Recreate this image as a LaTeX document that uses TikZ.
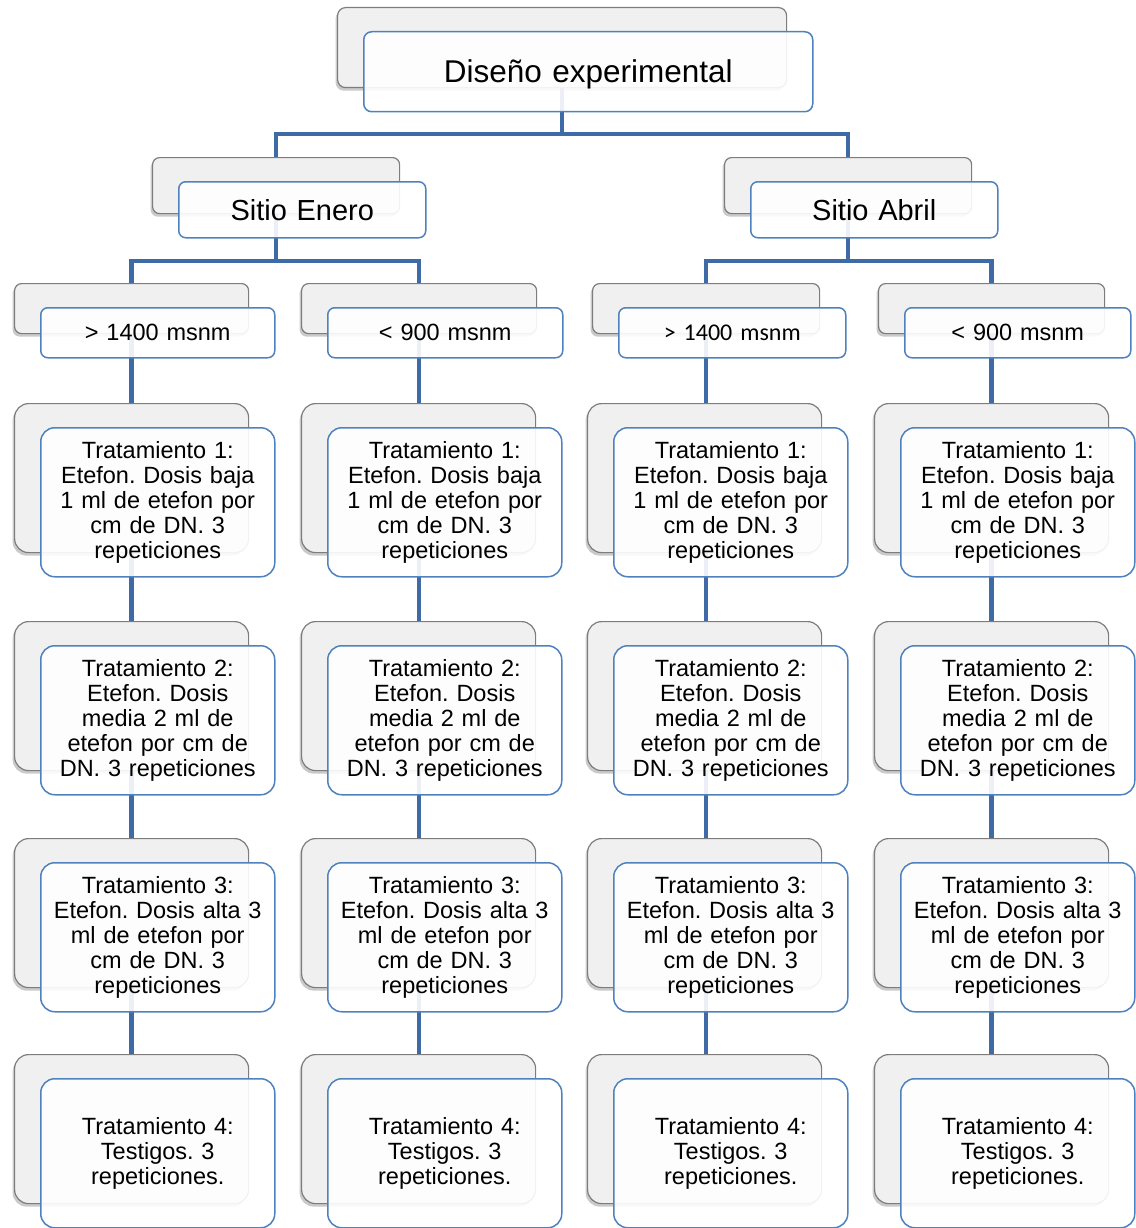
\documentclass[tikz,border=0pt]{standalone}
\usepackage{fontspec}
\setmainfont{Liberation Sans}
\newfontfamily\calib{Carlito}
\usetikzlibrary{shadows}
\frenchspacing
\definecolor{connc}{RGB}{62,106,166}
\definecolor{frontc}{RGB}{79,129,189}
\definecolor{backd}{RGB}{125,125,125}
\definecolor{backf}{RGB}{240,240,240}
\pgfdeclarelayer{bg}
\pgfsetlayers{bg,main}
\tikzset{
  backbox/.style={draw=backd, fill=backf, line width=1.2pt, inner sep=0pt, anchor=north west,
    drop shadow={shadow xshift=-2pt, shadow yshift=-3pt, opacity=0.35, fill=black!60}},
  frontbox/.style={draw=frontc, fill=white, fill opacity=0.9, text opacity=1, line width=1.5pt,
    inner sep=0pt, anchor=north west, align=center},
  conn/.style={draw=connc, line width=4.5pt},
  ftop/.style={font=\fontsize{31.5}{36}\selectfont},
  fsite/.style={font=\fontsize{29}{33}\selectfont},
  falt/.style={font=\fontsize{23.5}{26}\selectfont},
  fcal/.style={font=\calib\fontsize{24}{27}\selectfont},
  ftreat/.style={font=\fontsize{23.5}{25}\selectfont},
}
% #1 name, #2 x, #3 y, #4 width, #5 height, #6 radius, #7 style, #8 text
\newcommand\pairbox[8]{%
  \node[backbox, rounded corners=#6pt, minimum width=#4pt, minimum height=#5pt] (#1b) at (#2,#3) {};
  \node[frontbox, rounded corners=#6pt, minimum width=#4pt, minimum height=#5pt, text width=#4pt, #7]
    (#1f) at ([xshift=26pt,yshift=-24pt]#1b.north west) {#8};
}
\begin{document}
\begin{tikzpicture}[x=1pt,y=-1pt]
\useasboundingbox (0,0) rectangle (1135,1228);
% top
\pairbox{top}{337}{7}{449}{80}{8}{ftop}{\raisebox{0pt}[\dimexpr\height+6pt\relax][\depth]{Diseño experimental}}
% sites
\pairbox{se}{152}{157}{247}{56}{7}{fsite}{Sitio Enero}
\pairbox{sa}{724}{157}{247}{56}{7}{fsite}{Sitio Abril}
% altitudes
\pairbox{ca}{14}{283}{234}{50}{7}{falt}{> 1400 msnm}
\pairbox{cb}{301}{283}{235}{50}{7}{falt}{< 900 msnm}
\pairbox{cc}{592}{283}{227}{50}{7}{fcal}{> 1400 msnm}
\pairbox{cd}{878}{283}{226}{50}{7}{falt}{< 900 msnm}
% treatments
\foreach \c/\x in {a/14, b/301, c/587, d/874}{
  \pairbox{\c t1}{\x}{403}{234}{149}{14}{ftreat}{Tratamiento 1:\\Etefon. Dosis baja\\1 ml de etefon por\\cm de DN. 3\\repeticiones}
  \pairbox{\c t2}{\x}{621}{234}{149}{14}{ftreat}{Tratamiento 2:\\Etefon. Dosis\\media 2 ml de\\etefon por cm de\\DN. 3 repeticiones}
  \pairbox{\c t3}{\x}{838}{234}{149}{14}{ftreat}{Tratamiento 3:\\Etefon. Dosis alta 3\\ml de etefon por\\cm de DN. 3\\repeticiones}
  \pairbox{\c t4}{\x}{1054}{234}{149}{14}{ftreat}{Tratamiento 4:\\Testigos. 3\\repeticiones.}
}
\begin{pgfonlayer}{bg}
  \draw[conn] (topb.south) -- ++(0,46) -| (seb.north);
  \draw[conn] (topb.south) -- ++(0,46) -| (sab.north);
  \draw[conn] (seb.south) -- ++(0,47) -| (cab.north);
  \draw[conn] (seb.south) -- ++(0,47) -| (cbb.north);
  \draw[conn] (sab.south) -- ++(0,47) -| (ccb.north);
  \draw[conn] (sab.south) -- ++(0,47) -| (cdb.north);
  \foreach \c in {a,b,c,d}{
    \draw[conn] (c\c b.south) -- (c\c b.south |- \c t1b.north);
    \draw[conn] (c\c b.south |- \c t1b.south) -- (c\c b.south |- \c t2b.north);
    \draw[conn] (c\c b.south |- \c t2b.south) -- (c\c b.south |- \c t3b.north);
    \draw[conn] (c\c b.south |- \c t3b.south) -- (c\c b.south |- \c t4b.north);
  }
\end{pgfonlayer}
\end{tikzpicture}
\end{document}
